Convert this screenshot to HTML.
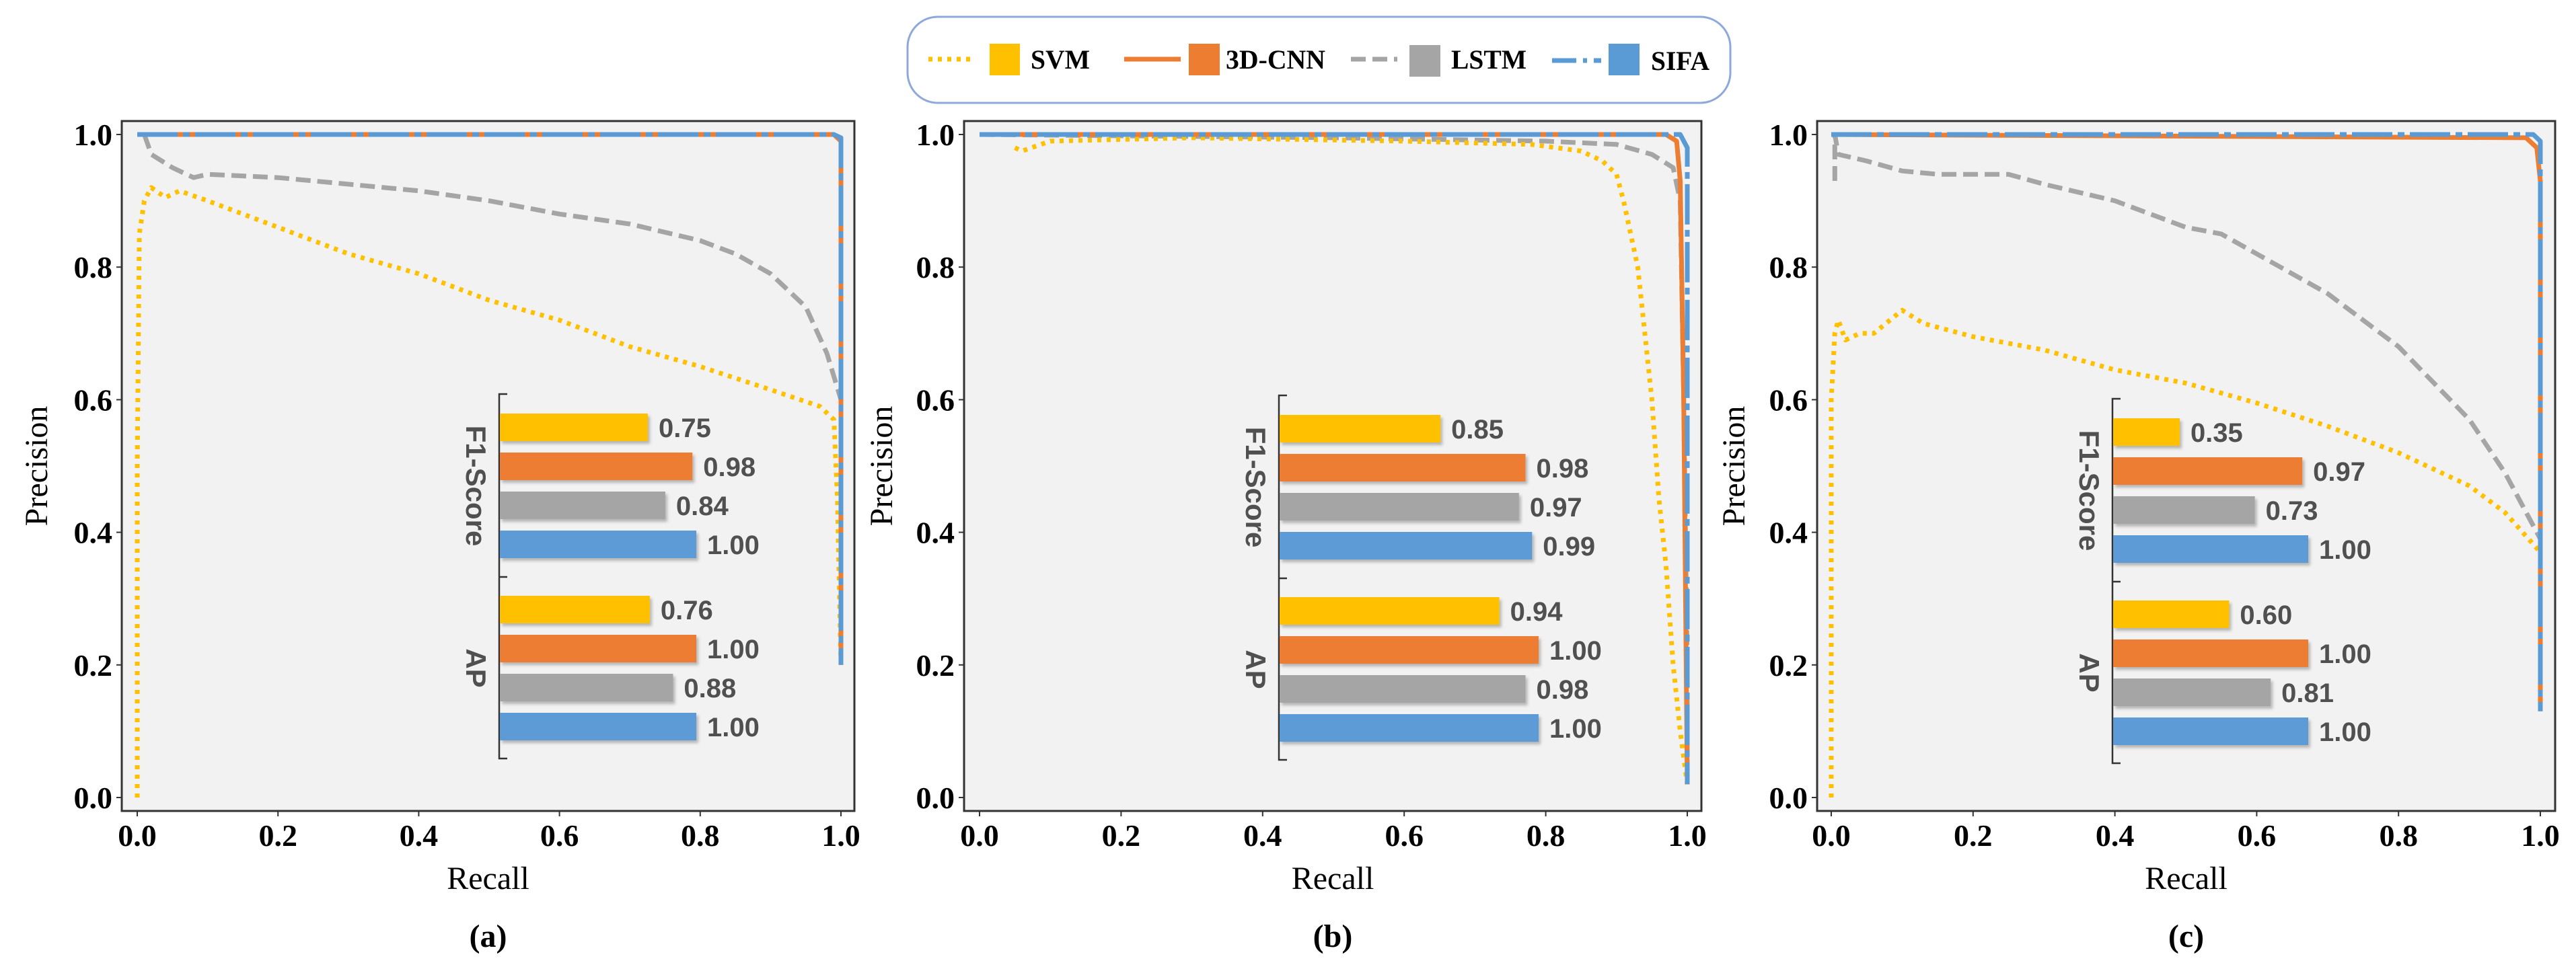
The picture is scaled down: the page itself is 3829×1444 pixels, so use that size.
<!DOCTYPE html>
<html><head><meta charset="utf-8"><style>
body{margin:0;background:#fff;width:3829px;height:1444px;overflow:hidden;}
svg{position:absolute;left:0;top:0}
.t{font-family:"Liberation Serif",serif;}
.a{font-family:"Liberation Sans",sans-serif;}
</style></head><body>
<svg id="fig" width="3829" height="1444" viewBox="0 0 3829 1444">
<defs><filter id="sh" x="-5%" y="-20%" width="115%" height="160%"><feDropShadow dx="3" dy="4" stdDeviation="2" flood-color="#000" flood-opacity="0.25"/></filter></defs>
<g>
<rect x="1349" y="25" width="1223" height="128" rx="45" fill="#fff" stroke="#8FA8DC" stroke-width="3"/>
<line x1="1380" y1="88" x2="1447" y2="88" stroke="#FFC000" stroke-width="7" stroke-dasharray="6,8"/>
<rect x="1471" y="65" width="45" height="47" fill="#FFC000"/>
<text class="t" x="1532" y="102" font-size="40" font-weight="bold" textLength="88" lengthAdjust="spacingAndGlyphs">SVM</text>
<line x1="1671" y1="88" x2="1755" y2="88" stroke="#ED7D31" stroke-width="7"/>
<rect x="1767" y="65" width="46" height="47" fill="#ED7D31"/>
<text class="t" x="1822" y="102" font-size="40" font-weight="bold" textLength="148" lengthAdjust="spacingAndGlyphs">3D-CNN</text>
<line x1="2008" y1="88" x2="2077" y2="88" stroke="#A5A5A5" stroke-width="7" stroke-dasharray="22,10"/>
<rect x="2095" y="67" width="46" height="47" fill="#A5A5A5"/>
<text class="t" x="2157" y="102" font-size="40" font-weight="bold" textLength="112" lengthAdjust="spacingAndGlyphs">LSTM</text>
<line x1="2307" y1="90" x2="2380" y2="90" stroke="#5B9BD5" stroke-width="7" stroke-dasharray="36,10,6,10"/>
<rect x="2391" y="65" width="46" height="47" fill="#5B9BD5"/>
<text class="t" x="2454" y="104" font-size="40" font-weight="bold" textLength="87" lengthAdjust="spacingAndGlyphs">SIFA</text>
</g>
</svg>
<script>
// ===== Data =====
const panelLabels = ["(a)","(b)","(c)"];
const yTicks = [0,0.2,0.4,0.6,0.8,1.0];
const xTicks = [0,0.2,0.4,0.6,0.8,1.0];
const tickLabels = ["0.0","0.2","0.4","0.6","0.8","1.0"];
const seriesNames = ["SVM","3D-CNN","LSTM","SIFA"];
const metricNames = ["F1-Score","AP"];
// panel a
const aSvmR=[0,0,0.003,0.01,0.02,0.04,0.06,0.1,0.15,0.2,0.3,0.4,0.5,0.6,0.7,0.8,0.9,0.97,0.99,0.995,1.0];
const aSvmP=[0,0.5,0.85,0.9,0.92,0.905,0.915,0.9,0.88,0.86,0.82,0.79,0.75,0.72,0.68,0.65,0.615,0.59,0.57,0.45,0.2];
const aLstmR=[0.01,0.02,0.05,0.08,0.1,0.2,0.3,0.4,0.5,0.6,0.7,0.8,0.85,0.9,0.95,0.98,1.0,1.0];
const aLstmP=[1.0,0.97,0.95,0.935,0.94,0.935,0.925,0.915,0.9,0.88,0.865,0.84,0.82,0.79,0.74,0.67,0.6,0.3];
const aCnnR=[0,0.99,1.0,1.0]; const aCnnP=[1,1,0.99,0.2];
const aSifaR=[0,0.99,1.0,1.0]; const aSifaP=[1,1,0.995,0.2];
const aF1=[0.75,0.98,0.84,1.00]; const aAP=[0.76,1.00,0.88,1.00];
// panel b
const bSvmR=[0.05,0.06,0.1,0.3,0.6,0.78,0.85,0.88,0.9,0.91,0.93,0.94,0.95,0.96,0.97,0.98,0.99,1.0];
const bSvmP=[0.98,0.975,0.99,0.995,0.99,0.985,0.975,0.96,0.94,0.9,0.8,0.7,0.6,0.45,0.35,0.2,0.1,0.02];
const bLstmR=[0,0.5,0.8,0.9,0.95,0.98,0.99,0.995,1.0,1.0];
const bLstmP=[1,0.995,0.99,0.985,0.97,0.95,0.9,0.6,0.2,0.02];
const bCnnR=[0,0.97,0.985,0.99,0.995,1.0]; const bCnnP=[1,1,0.99,0.93,0.6,0.02];
const bSifaR=[0,0.99,1.0,1.0]; const bSifaP=[1,1,0.98,0.02];
const bF1=[0.85,0.98,0.97,0.99]; const bAP=[0.94,1.00,0.98,1.00];
// panel c
const cSvmR=[0,0,0.005,0.01,0.02,0.04,0.06,0.1,0.13,0.2,0.25,0.3,0.4,0.5,0.6,0.7,0.8,0.9,0.95,1.0,1.0];
const cSvmP=[0,0.6,0.7,0.72,0.69,0.7,0.7,0.735,0.715,0.695,0.685,0.675,0.645,0.625,0.595,0.56,0.52,0.47,0.43,0.37,0.3];
const cLstmR=[0.005,0.005,0.01,0.05,0.1,0.15,0.2,0.25,0.3,0.4,0.5,0.55,0.6,0.7,0.8,0.9,0.95,1.0,1.0];
const cLstmP=[0.93,1.0,0.97,0.96,0.945,0.94,0.94,0.94,0.925,0.9,0.86,0.85,0.82,0.76,0.68,0.57,0.49,0.39,0.2];
const cCnnR=[0,0.98,0.995,1.0,1.0]; const cCnnP=[1,0.995,0.98,0.93,0.13];
const cSifaR=[0,0.99,1.0,1.0]; const cSifaP=[1,1,0.99,0.13];
const cF1=[0.35,0.97,0.73,1.00]; const cAP=[0.60,1.00,0.81,1.00];

// ===== Layout =====
const NS="http://www.w3.org/2000/svg";
const svg=document.getElementById('fig');
const colors=["#FFC000","#ED7D31","#A5A5A5","#5B9BD5"];
const dashes=["6,8","","22,10","60,8,10,8"];
const panels=[
 {fl:181,fr:1270,x0:204,x1:1250,ylab:54,curves:[[aSvmR,aSvmP],[aCnnR,aCnnP],[aLstmR,aLstmP],[aSifaR,aSifaP]],f1:aF1,ap:aAP,ix:742,iy:586,imin:-0.017,imax:1.0,ilen:293},
 {fl:1433,fr:2529,x0:1456,x1:2508,ylab:1310,curves:[[bSvmR,bSvmP],[bCnnR,bCnnP],[bLstmR,bLstmP],[bSifaR,bSifaP]],f1:bF1,ap:bAP,ix:1901,iy:588,imin:0.603,imax:1.0,ilen:386},
 {fl:2701,fr:3798,x0:2722,x1:3776,ylab:2577,curves:[[cSvmR,cSvmP],[cCnnR,cCnnP],[cLstmR,cLstmP],[cSifaR,cSifaP]],f1:cF1,ap:cAP,ix:3140,iy:593,imin:0.01,imax:1.0,ilen:291}
];
const FT=180,FB=1206,Y1=200,Y0=1186;
function el(tag,attrs,parent,txt){const e=document.createElementNS(NS,tag);for(const k in attrs)e.setAttribute(k,attrs[k]);if(txt!==undefined)e.textContent=txt;(parent||svg).appendChild(e);return e;}

panels.forEach((p,pi)=>{
 const xs=v=>p.x0+(p.x1-p.x0)*v;
 const ys=v=>Y0+(Y1-Y0)*v;
 const g=el('g',{});
 
 
 const bg=el('rect',{x:p.fl,y:FT,width:p.fr-p.fl,height:FB-FT,fill:'#F2F2F2',stroke:'#333',"stroke-width":3},g);
 
 
 yTicks.forEach((t,i)=>{
  el('line',{x1:p.fl-8,x2:p.fl,y1:ys(t),y2:ys(t),stroke:'#333','stroke-width':2},g);
  const tx=el('text',{x:p.fl-14,y:ys(t)+16,'text-anchor':'end','font-size':46,'font-weight':'bold',class:'t'},g,tickLabels[i]);
  
  
 });
 xTicks.forEach((t,i)=>{
  el('line',{x1:xs(t),x2:xs(t),y1:FB,y2:FB+8,stroke:'#333','stroke-width':2},g);
  const tx=el('text',{x:xs(t),y:FB+52,'text-anchor':'middle','font-size':46,'font-weight':'bold',class:'t'},g,tickLabels[i]);
  
  
 });
 const yl=el('text',{x:0,y:0,transform:`translate(${p.ylab+16},${(FT+FB)/2}) rotate(-90)`,'text-anchor':'middle','font-size':48,class:'t'},g,'Precision');
 
 
 const xl=el('text',{x:(p.fl+p.fr)/2,y:1322,'text-anchor':'middle','font-size':48,class:'t'},g,'Recall');
 
 
 const pl=el('text',{x:(p.fl+p.fr)/2,y:1408,'text-anchor':'middle','font-size':48,'font-weight':'bold',class:'t'},g,panelLabels[pi]);
 
 
 // curves: draw order LSTM, SVM, CNN, SIFA (SIFA on top)
 [2,0,1,3].forEach(si=>{
  const [R,P]=p.curves[si];
  const d=R.map((r,i)=>(i?'L':'M')+xs(r).toFixed(1)+','+ys(P[i]).toFixed(1)).join(' ');
  const attrs={d:d,fill:'none',stroke:colors[si],'stroke-width':7,'stroke-linejoin':'round'};
  if(dashes[si])attrs['stroke-dasharray']=dashes[si];
  const path=el('path',attrs,g);
  
  
 });
 // inset bars
 const bx=v=>p.ix+p.ilen*(v-p.imin)/(p.imax-p.imin);
 const ig=el('g',{},g);
 
 
 const top=p.iy, bot=p.iy+542, mid=p.iy+272;
 el('path',{d:`M${p.ix+12},${top} H${p.ix} V${bot} H${p.ix+12} M${p.ix},${mid} H${p.ix+12}`,fill:'none',stroke:'#333','stroke-width':2.5},ig);
 [p.f1,p.ap].forEach((vals,gi)=>{
  const gy=top+29+gi*271;
  vals.forEach((v,i)=>{
   const y=gy+i*58;
   const r=el('rect',{x:p.ix+1,y:y,width:bx(v)-p.ix-1,height:41,fill:colors[i],filter:'url(#sh)'},ig);
   
   
   const lt=el('text',{x:bx(v)+16,y:y+35,'font-size':40,'font-weight':'bold',fill:'#505050',class:'a'},ig,v.toFixed(2));
   
   
  });
  const cy=gy+(3*58+41)/2;
  const ml=el('text',{x:0,y:0,transform:`translate(${p.ix-49},${cy}) rotate(90)`,'text-anchor':'middle','font-size':42,'font-weight':'bold',fill:'#505050',class:'a'},ig,metricNames[gi]);
  
  
 });
});
</script>
</body></html>
